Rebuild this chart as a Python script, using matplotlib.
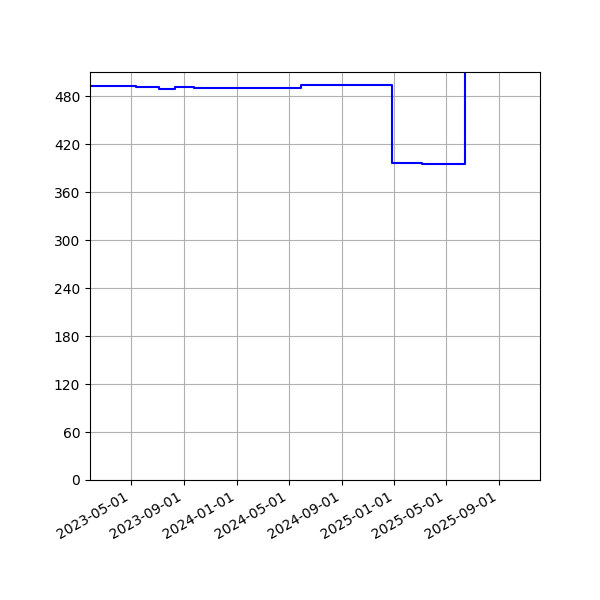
import matplotlib
matplotlib.use("Agg")
import matplotlib.pyplot as plt
import matplotlib.dates as mdates
import numpy as np
import pandas as pd

dates = pd.to_datetime([
    "2023-01-20", "2023-05-12", "2023-07-06", "2023-08-12", "2023-09-24",
    "2024-05-29", "2024-12-27", "2025-03-06", "2025-06-14", "2025-10-19",
])
values = [492, 491, 488.5, 491, 490, 494, 396.6, 395.4, 650, 650]

fig, ax = plt.subplots(figsize=(6, 6), dpi=100)
fig.subplots_adjust(left=0.15, right=0.9, top=0.88, bottom=0.2)
ax.step(dates, values, where="post", color="blue", linewidth=1.5)
ax.set_xlim(pd.Timestamp("2023-01-26"), pd.Timestamp("2025-12-05"))
ax.set_ylim(0, 510)
ax.yaxis.set_major_locator(matplotlib.ticker.MultipleLocator(60))
ax.xaxis.set_major_locator(mdates.MonthLocator(bymonth=[1, 5, 9]))
ax.xaxis.set_major_formatter(mdates.DateFormatter("%Y-%m-%d"))
ax.grid(True)
for lab in ax.get_xticklabels():
    lab.set_rotation(30)
    lab.set_ha("right")
fig.savefig("out.png")
